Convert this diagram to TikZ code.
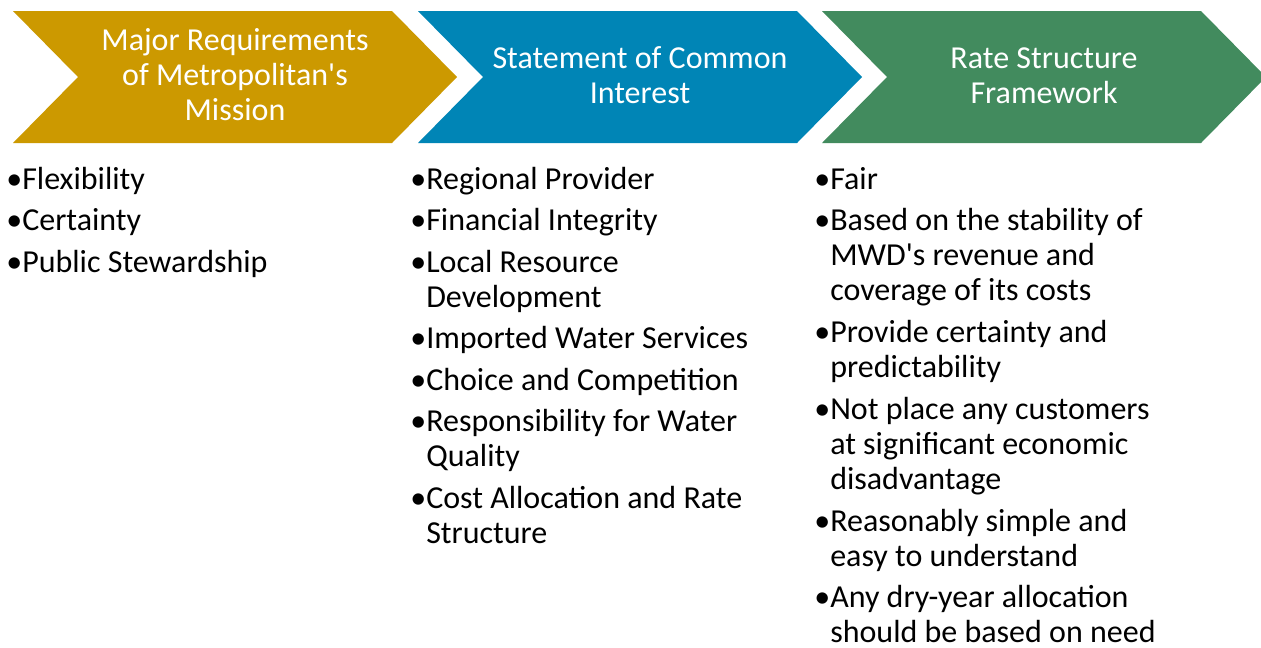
\documentclass[tikz,border=0pt]{standalone}
\usepackage{fontspec}
\setmainfont{Carlito}[Ligatures=TeXOff]
\usepackage{tikz}

\definecolor{mwdgold}{RGB}{204,153,0}
\definecolor{mwdblue}{RGB}{0,133,182}
\definecolor{mwdgreen}{RGB}{66,139,94}

\tikzset{
  head/.style={text=white,font=\fontsize{24}{26.25}\selectfont,align=center,inner sep=0pt,anchor=base},
  item/.style={text=black,font=\fontsize{24}{26.25}\selectfont,align=left,inner sep=0pt,anchor=base west}
}

\begin{document}
\begin{tikzpicture}[x=0.75pt,y=-0.75pt]
        \useasboundingbox[fill=white] (0,0) rectangle (1261,647);

        % chevrons
        \fill[mwdgold]  (13,11) -- (392,11) -- (457,77) -- (392,143) -- (13,143) -- (78,77) -- cycle;
        \fill[mwdblue]  (418,11) -- (797,11) -- (862,77) -- (797,143) -- (418,143) -- (483,77) -- cycle;
        \fill[mwdgreen] (822,11) -- (1201,11) -- (1266,77) -- (1201,143) -- (822,143) -- (887,77) -- cycle;

        % headers (placed at the baseline of their last line)
        \node[head] (mission) at (235,120)  {Major Requirements\\of Metropolitan's\\Mission};
        \node[head] (common)  at (640,103)  {Statement of Common\\Interest};
        \node[head] (rate)    at (1044,103) {Rate Structure\\Framework};

        % first column
        \node[item] (flex)    at (22,189)   {\llap{•}Flexibility};
        \node[item] (cert)    at (22,230.5) {\llap{•}Certainty};
        \node[item] (steward) at (22,272)   {\llap{•}Public Stewardship};

        % second column
        \node[item] (regional)  at (426,189)   {\llap{•}Regional Provider};
        \node[item] (financial) at (426,230.5) {\llap{•}Financial Integrity};
        \node[item] (local)     at (426,307)   {\llap{•}Local Resource\\Development};
        \node[item] (imported)  at (426,348.5) {\llap{•}Imported Water Services};
        \node[item] (choice)    at (426,390)   {\llap{•}Choice and Competition};
        \node[item] (quality)   at (426,466.5) {\llap{•}Responsibility for Water\\Quality};
        \node[item] (costalloc) at (426,543)   {\llap{•}Cost Allocation and Rate\\Structure};

        % third column
        \node[item] (fair)     at (830,189)   {\llap{•}Fair};
        \node[item] (stable)   at (830,300.5) {\llap{•}Based on the stability of\\MWD's revenue and\\coverage of its costs};
        \node[item] (predict)  at (830,377)   {\llap{•}Provide certainty and\\predictability};
        \node[item] (nodisadv) at (830,489.5) {\llap{•}Not place any customers\\at significant economic\\disadvantage};
        \node[item] (simple)   at (830,566)   {\llap{•}Reasonably simple and\\easy to understand};
        \node[item] (dryyear)  at (830,642.5) {\llap{•}Any dry-year allocation\\should be based on need};
    \end{tikzpicture}
\end{document}
